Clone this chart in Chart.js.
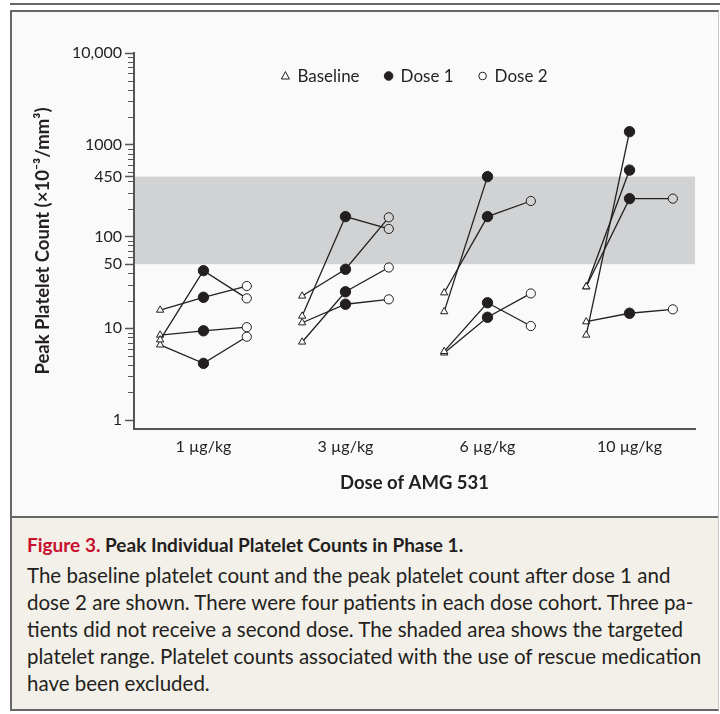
<!DOCTYPE html>
<html>
<head>
<meta charset="utf-8">
<script src="https://cdn.jsdelivr.net/npm/chart.js@4.4.1/dist/chart.umd.min.js"></script>
<style>
  body { margin: 0; background: #fff; font-family: Lato, sans-serif; color: #231f20; }
  .topline { position: absolute; left: 10px; top: 3px; width: 710px; height: 2px; background: #666; }
  .frame { position: absolute; left: 10px; top: 10px; width: 709px; height: 701px; box-sizing: border-box;
           border: 2px solid #666; border-right: 1px solid #c8c8c8; background: #f3f0e9; }
  .panel { position: absolute; left: 0; top: 0; width: 706px; height: 504px; background: #fafafa;
           border-bottom: 2px solid #666; }
  .wrap { position: absolute; left: 0; top: 0; width: 706px; height: 504px; }
  .cap { position: absolute; left: 27px; top: 532px; width: 690px; }
  .cap .ttl { font-weight: bold; font-size: 19px; line-height: 26px; white-space: nowrap; }
  .cap .ttl .red { color: #c8102e; }
  .cap .body { font-size: 20.5px; line-height: 27px; margin-top: 4px; white-space: nowrap; }
</style>
</head>
<body>
<div class="topline"></div>
<div class="frame">
  <div class="panel"></div>
  <div class="wrap"><canvas id="chart"></canvas></div>
</div>
<div class="cap">
  <div class="ttl"><span class="red">Figure 3.</span> Peak Individual Platelet Counts in Phase 1.</div>
  <div class="body">The baseline platelet count and the peak platelet count after dose 1 and<br>dose 2 are shown. There were four patients in each dose cohort. Three pa-<br>tients did not receive a second dose. The shaded area shows the targeted<br>platelet range. Platelet counts associated with the use of rescue medication<br>have been excluded.</div>
</div>
<script>
const cohorts = ['1 µg/kg', '3 µg/kg', '6 µg/kg', '10 µg/kg'];
// one row per cohort, one value per patient (x10^-3/mm3)
const baseline = [
  [15.8, 7.5, 8.45, 6.6],
  [13.6, 22.5, 7.1, 11.5],
  [15.2, 24.4, 5.6, 5.4],
  [8.45, 28.4, 28.4, 11.8]
];
const dose1 = [
  [21.8, 42.5, 9.4, 4.15],
  [165, 44, 25, 18.3],
  [450, 165, 19, 13.2],
  [1390, 530, 259, 14.6]
];
const dose2 = [
  [28.9, 21.2, 10.3, 8.1],
  [121, 162, 46, 20.7],
  [null, 244, 10.6, 24],
  [null, null, 259, 16.1]
];
const yTicks = [1, 10, 50, 100, 450, 1000, 10000];
const yTickLabels = ['1', '10', '50', '100', '450', '1000', '10,000'];
const legendLabels = ['Baseline', 'Dose 1', 'Dose 2'];
const targetRange = [50, 450];

const ink = '#231f20';
const panelBg = '#fafafa';
const bandColor = '#d1d2d4';
const off = 0.305;

// minor ticks on the log axis
const minorTicks = [];
[1, 10, 100, 1000].forEach(d => {
  for (let k = 2; k <= 9; k++) {
    const v = k * d;
    if (!yTicks.includes(v)) minorTicks.push(v);
  }
});

const datasets = [];
cohorts.forEach((c, g) => {
  baseline[g].forEach((b, p) => {
    datasets.push({
      data: [
        { x: g - off, y: b },
        { x: g, y: dose1[g][p] },
        { x: g + off, y: dose2[g][p] }
      ],
      borderColor: ink,
      borderWidth: 1.3,
      pointStyle: ['triangle', 'circle', 'circle'],
      pointRadius: [4.2, 5.2, 4.6],
      pointBorderWidth: 1,
      pointBorderColor: ink,
      pointBackgroundColor: ctx => {
        if (ctx.dataIndex === 1) return ink;
        const v = ctx.raw && ctx.raw.y;
        return (v >= targetRange[0] && v <= targetRange[1]) ? bandColor : panelBg;
      }
    });
  });
});

const bandPlugin = {
  id: 'band',
  beforeDatasetsDraw(chart) {
    const { ctx, chartArea, scales } = chart;
    const yTop = scales.y.getPixelForValue(targetRange[1]);
    const yBot = scales.y.getPixelForValue(targetRange[0]);
    ctx.save();
    ctx.fillStyle = bandColor;
    ctx.fillRect(chartArea.left + 1, yTop, chartArea.right - chartArea.left - 1, yBot - yTop);
    ctx.restore();
  }
};

const extrasPlugin = {
  id: 'extras',
  afterDraw(chart) {
    const { ctx, chartArea, scales } = chart;
    ctx.save();
    // minor ticks
    ctx.strokeStyle = '#555';
    ctx.lineWidth = 1;
    minorTicks.forEach(v => {
      const y = Math.round(scales.y.getPixelForValue(v)) + 0.5;
      ctx.beginPath();
      ctx.moveTo(chartArea.left - 6, y);
      ctx.lineTo(chartArea.left, y);
      ctx.stroke();
    });
    // legend inside the plot
    ctx.font = '17px Lato';
    ctx.textBaseline = 'middle';
    const widths = legendLabels.map(t => ctx.measureText(t).width);
    const total = 4 + widths.reduce((a, w) => a + 12 + w, 0) + 29 * (legendLabels.length - 1);
    let x = (chartArea.left + chartArea.right) / 2 - total / 2 + 4;
    const y = chartArea.top + 23;
    legendLabels.forEach((t, i) => {
      ctx.lineWidth = 1;
      ctx.strokeStyle = ink;
      ctx.fillStyle = i === 1 ? ink : panelBg;
      ctx.beginPath();
      if (i === 0) {
        ctx.moveTo(x, y - 4.5);
        ctx.lineTo(x + 4, y + 3);
        ctx.lineTo(x - 4, y + 3);
        ctx.closePath();
      } else {
        ctx.arc(x, y, i === 1 ? 4.3 : 3.8, 0, Math.PI * 2);
      }
      ctx.fill();
      ctx.stroke();
      ctx.fillStyle = ink;
      ctx.fillText(t, x + 12, y + 1);
      x += 12 + widths[i] + 29;
    });
    ctx.restore();
  }
};

new Chart(document.getElementById('chart'), {
  type: 'line',
  data: { datasets },
  plugins: [bandPlugin, extrasPlugin],
  options: {
    responsive: true,
    maintainAspectRatio: false,
    animation: false,
    layout: { padding: { top: 41, right: 23, left: 0, bottom: 0 } },
    plugins: { legend: { display: false }, tooltip: { enabled: false } },
    scales: {
      x: {
        type: 'linear',
        min: -0.489,
        max: 3.461,
        afterBuildTicks: s => { s.ticks = cohorts.map((c, i) => ({ value: i })); },
        afterFit: s => { s.height = 87; },
        ticks: {
          autoSkip: false,
          maxRotation: 0,
          padding: 8,
          color: ink,
          font: { family: 'Lato', size: 16 },
          callback: v => cohorts[v]
        },
        grid: { display: false, drawTicks: false },
        border: { display: true, color: '#555', width: 2 },
        title: {
          display: true,
          text: 'Dose of AMG 531',
          color: ink,
          font: { family: 'Lato', size: 18.5, weight: 'bold' },
          padding: { top: 0, bottom: 22 }
        }
      },
      y: {
        type: 'logarithmic',
        min: 0.8,
        max: 10000,
        afterBuildTicks: s => { s.ticks = yTicks.map(v => ({ value: v })); },
        afterFit: s => { s.width = 122; },
        ticks: {
          autoSkip: false,
          padding: 3,
          color: ink,
          font: { family: 'Lato', size: 16 },
          callback: v => yTickLabels[yTicks.indexOf(v)]
        },
        grid: { drawOnChartArea: false, drawTicks: true, tickLength: 9, tickColor: '#555', tickWidth: 1.5 },
        border: { display: true, color: '#555', width: 2 },
        title: {
          display: true,
          text: 'Peak Platelet Count (×10⁻³/mm³)',
          color: ink,
          font: { family: 'Lato', size: 18.5, weight: 'bold' },
          padding: { top: 20, bottom: 0 }
        }
      }
    }
  }
});
</script>
</body>
</html>
